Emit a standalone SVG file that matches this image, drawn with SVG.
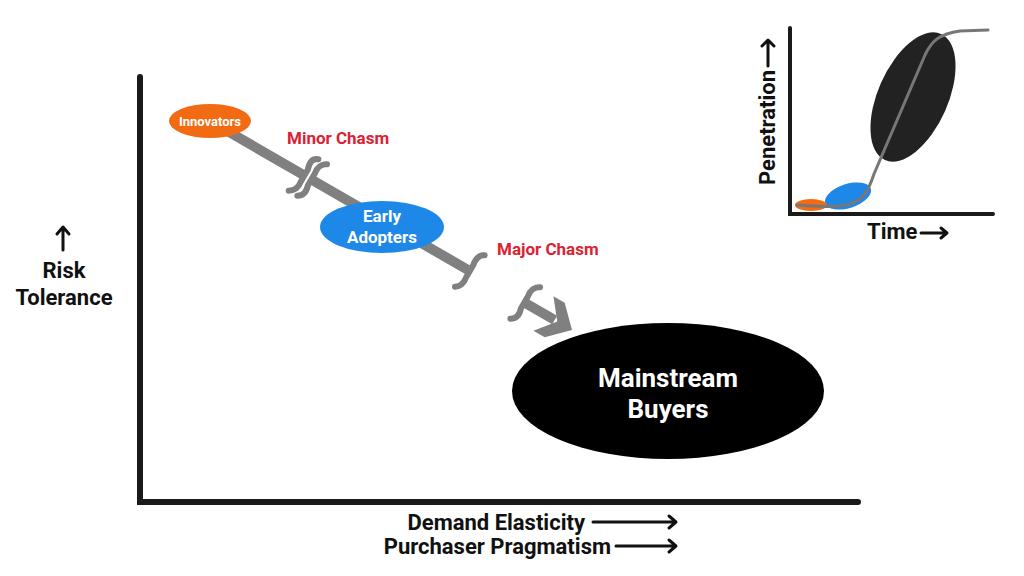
<svg xmlns="http://www.w3.org/2000/svg" width="1024" height="576" viewBox="0 0 1024 576">
<style>
text{font-family:Roboto,"Liberation Sans",sans-serif;font-weight:700}
.lbl{fill:#111;font-size:22px}
.red{fill:#dc2232;font-size:17px}
.wt{fill:#fff;text-anchor:middle}
.axis{stroke:#1a1a1a;stroke-width:6;stroke-linecap:round;fill:none}
.ax2{stroke:#1a1a1a;stroke-width:4;stroke-linecap:round;fill:none}
.bar{stroke:#808080;stroke-width:10;fill:none}
.cap{stroke:#808080;stroke-width:6;stroke-linecap:round;fill:none}
.arr{stroke:#111;stroke-width:3;fill:none;stroke-linecap:round;stroke-linejoin:round}
</style>
<rect width="1024" height="576" fill="#fff"/>
<g id="axes">
<path class="axis" d="M140,77 V502 H858"/>
</g>
<g id="connectors">
<g transform="translate(210,121) rotate(30)">
<path class="bar" d="M0,0 H109 M117,0 H300"/>
<path class="cap" d="M113,-21 C107,-19 107,-13 109,-7 L109,7 C110,13 108,18 103,21"/>
<path class="cap" d="M123,-21 C118,-19 116,-13 117,-7 L117,7 C119,13 118,18 113,21"/>
<path class="cap" d="M305,-21 C300,-19 299,-13 300,-7 L300,7 C301,13 300,18 295,21"/>
<path class="cap" d="M369,-21 C364,-19 362,-13 363,-7 L363,7 C365,13 364,18 359,21"/>
<path class="bar" d="M363,0 H398"/>
<polygon fill="#808080" points="385,-20 398,-20 418,0 398,20 385,20 401,0"/>
</g>
</g>
<g id="innovators">
<ellipse cx="210" cy="121" rx="41" ry="17" fill="#f26a12"/>
<text class="wt" x="210" y="126" font-size="13">Innovators</text>
</g>
<g id="minor-chasm"><text class="red" x="287" y="144">Minor Chasm</text></g>
<g id="early-adopters">
<ellipse cx="382" cy="227" rx="62" ry="26" fill="#1e88e8"/>
<text class="wt" x="382" y="222" font-size="17">Early</text>
<text class="wt" x="382" y="243" font-size="17">Adopters</text>
</g>
<g id="major-chasm"><text class="red" x="497" y="255">Major Chasm</text></g>
<g id="mainstream">
<ellipse cx="668" cy="391" rx="156" ry="68" fill="#000"/>
<text class="wt" x="668" y="387" font-size="26">Mainstream</text>
<text class="wt" x="668" y="418" font-size="26">Buyers</text>
</g>
<g id="y-label">
<path class="arr" d="M63,250 V228 M57,234 L63,227 L69,234"/>
<text class="lbl" x="64" y="278" text-anchor="middle">Risk</text>
<text class="lbl" x="64" y="305" text-anchor="middle">Tolerance</text>
</g>
<g id="x-label">
<text class="lbl" x="585" y="530" text-anchor="end">Demand Elasticity</text>
<path class="arr" d="M593,522 H676 M669,516 L676,522 L669,528"/>
<text class="lbl" x="611" y="554" text-anchor="end">Purchaser Pragmatism</text>
<path class="arr" d="M616,546 H676 M669,540 L676,546 L669,552"/>
</g>
<g id="inset">
<ellipse cx="913" cy="97" rx="35" ry="69" fill="#222" transform="rotate(24 913 97)"/>
<ellipse cx="848" cy="196" rx="24" ry="12" fill="#1e88e8" transform="rotate(-18 848 196)"/>
<ellipse cx="811" cy="205" rx="16" ry="6" fill="#f26a12"/>
<path d="M797,205 C815,206 835,208 850,204 C863,200 868,192 874,174 L925,55 C932,40 940,34 960,31 L988,30" stroke="#777" stroke-width="3" fill="none" stroke-linecap="round"/>
<path class="ax2" d="M790,28 V214 H993"/>
<text class="lbl" transform="translate(775,185) rotate(-90)" font-size="20">Penetration</text>
<path class="arr" d="M768,66 V40 M762,46 L768,40 L774,46"/>
<text class="lbl" x="867" y="239" font-size="20">Time</text>
<path class="arr" d="M921,233 H947 M941,228 L947,233 L941,238"/>
</g>
</svg>
